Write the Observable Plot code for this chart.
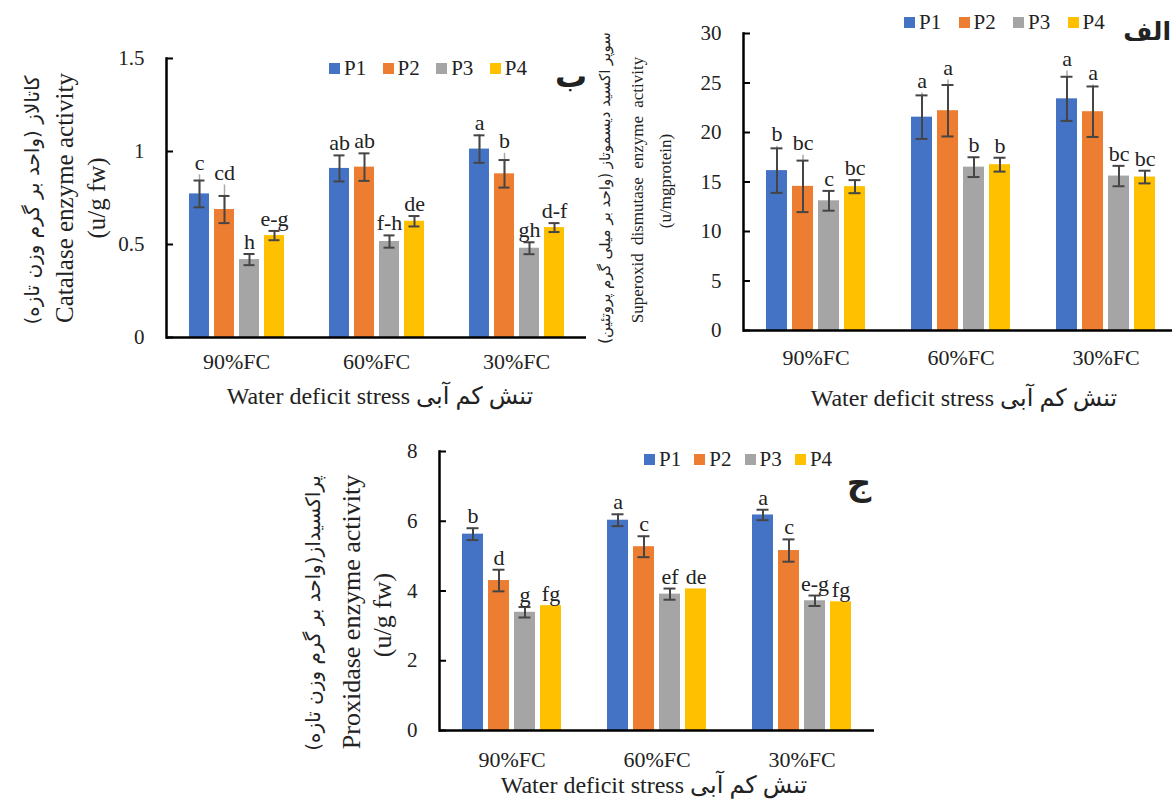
<!DOCTYPE html>
<html><head><meta charset="utf-8">
<script src="https://cdn.jsdelivr.net/npm/d3@7"></script>
<script src="https://cdn.jsdelivr.net/npm/@observablehq/plot@0.6"></script>
<style>
html,body{margin:0;padding:0;background:#fff;}
body{width:1172px;height:803px;position:relative;overflow:hidden;font-family:"Liberation Serif","DejaVu Sans",serif;color:#222;}
.panel{position:absolute;}
.t{position:absolute;white-space:nowrap;transform:translate(-50%,-50%);line-height:1;font-family:"Liberation Serif","DejaVu Sans",serif;}
.rot{transform:translate(-50%,-50%) rotate(-90deg);}
.t.fa{font-family:"DejaVu Sans",sans-serif;}
.leg{position:absolute;}
.leg .lg-swatches{font:21px "Liberation Serif",serif !important;color:#222;margin:0 !important;}
.leg .lg-swatches-wrap{min-height:24px !important;flex-wrap:nowrap !important;}
.leg .lg-swatch{margin-right:0 !important;}
.leg .lg-swatch > svg{margin-right:4px !important;}
svg text{font-family:"Liberation Serif","DejaVu Sans",serif;}
</style></head><body>
<script>
const categories = ["90%FC", "60%FC", "30%FC"];
const series = ["P1", "P2", "P3", "P4"];
const colors = ["#4472C4", "#ED7D31", "#A5A5A5", "#FFC000"];

// Catalase (panel ب) — rows: P1..P4, columns: 90%FC, 60%FC, 30%FC
const catalaseMean = [[0.772, 0.909, 1.013], [0.688, 0.916, 0.880], [0.419, 0.516, 0.480], [0.548, 0.625, 0.591]];
const catalaseErr = [[0.072, 0.070, 0.074], [0.073, 0.074, 0.074], [0.030, 0.033, 0.032], [0.025, 0.028, 0.024]];
const catalaseLight = [[0.875, null, 1.09], [0.82, null, 0.99], [null, null, null], [null, null, null]];
const catalaseLetters = [["c", "ab", "a"], ["cd", "ab", "b"], ["h", "f-h", "gh"], ["e-g", "de", "d-f"]];
const catalaseTicks = [0, 0.5, 1, 1.5];

// Superoxide dismutase (panel الف)
const sodMean = [[16.15, 21.55, 23.4], [14.56, 22.2, 22.1], [13.1, 16.5, 15.6], [14.53, 16.75, 15.5]];
const sodErr = [[2.25, 2.2, 2.23], [2.6, 2.6, 2.55], [1.0, 1.0, 1.03], [0.66, 0.7, 0.64]];
const sodLight = [[18.6, 24.0, 26.2], [17.7, 25.3, 24.8], [null, null, null], [null, null, null]];
const sodLetters = [["b", "a", "a"], ["bc", "a", "a"], ["c", "b", "bc"], ["bc", "b", "bc"]];
const sodTicks = [0, 5, 10, 15, 20, 25, 30];

// Peroxidase (panel ج)
const podMean = [[5.63, 6.03, 6.18], [4.30, 5.27, 5.16], [3.39, 3.91, 3.72], [3.58, 4.06, 3.69]];
const podErr = [[0.17, 0.17, 0.15], [0.31, 0.30, 0.32], [0.15, 0.16, 0.15], [0, 0, 0]];
const podLight = [[null, null, null], [null, null, null], [null, null, null], [null, null, null]];
const podLetters = [["b", "a", "a"], ["d", "c", "c"], ["g", "ef", "e-g"], ["fg", "de", "fg"]];
const podTicks = [0, 2, 4, 6, 8];

function rows(mean, err, light, letters) {
  const out = [];
  series.forEach((s, i) => categories.forEach((c, j) => {
    const v = mean[i][j], e = err[i][j], l = light[i][j];
    out.push({cat: c, s, v, err: e, lo: v - e, hi: v + e, light: l,
      top: Math.max(v + e, l == null ? -Infinity : l), letter: letters[i][j]});
  }));
  return out;
}

function panel(data, o) {
  const withErr = data.filter(d => d.err > 0);
  const withLight = data.filter(d => d.light != null);
  return Plot.plot({
    width: o.width, height: o.height,
    marginLeft: o.ml, marginRight: o.mr, marginTop: o.mt, marginBottom: o.mb,
    style: {background: "transparent", maxWidth: "none", overflow: "visible",
      fontFamily: '"Liberation Serif", serif', fontSize: "22px", color: "#222"},
    fx: {domain: categories, padding: 0, axis: "bottom", tickSize: 0, tickPadding: o.fxPad, label: null},
    x: {domain: series, paddingInner: 0.2, paddingOuter: 0.87, axis: null},
    y: {domain: o.yDomain, axis: null},
    color: {domain: series, range: colors},
    marks: [
      Plot.barY(data, {fx: "cat", x: "s", y: "v", fill: "s"}),
      Plot.ruleX(withLight, {fx: "cat", x: "s", y1: "v", y2: "light", stroke: "#a8a8a8", strokeWidth: 1.5}),
      Plot.ruleX(withErr, {fx: "cat", x: "s", y1: "lo", y2: "hi", stroke: "#454545", strokeWidth: 2}),
      Plot.tickY(withErr, {fx: "cat", x: "s", y: "hi", stroke: "#454545", strokeWidth: 2, inset: 4.5}),
      Plot.tickY(withErr, {fx: "cat", x: "s", y: "lo", stroke: "#454545", strokeWidth: 2, inset: 4.5}),
      Plot.text(data, {fx: "cat", x: "s", y: "top", text: "letter", lineAnchor: "bottom", dy: -5, fontSize: 22, fill: "#222"}),
      Plot.axisY({ticks: o.ticks, tickFormat: d => String(d), tickSize: -7, tickPadding: 29, strokeWidth: 2, stroke: "#000", fontSize: 21, fill: "#222"}),
      Plot.frame({anchor: "left", facetAnchor: "left", strokeWidth: 2.5, stroke: "#000"}),
      Plot.ruleY([0], {strokeWidth: 2.5, stroke: "#000"})
    ]
  });
}

function place(el, left, top) {
  const d = document.createElement("div");
  d.className = "panel";
  d.style.left = left + "px"; d.style.top = top + "px";
  d.appendChild(el);
  document.body.appendChild(d);
  return d;
}
function txt(s, x, y, size, extra = {}, cls = "") {
  const d = document.createElement("div");
  d.className = "t " + cls;
  d.textContent = s;
  d.style.left = x + "px"; d.style.top = y + "px"; d.style.fontSize = size + "px";
  Object.assign(d.style, extra.style || {});
  if (extra.dir) d.setAttribute("dir", extra.dir);
  document.body.appendChild(d);
  return d;
}
function legend(left, cy, itemWidth) {
  const l = Plot.legend({color: {domain: series, range: colors}, legend: "swatches", swatchSize: 11, className: "lg"});
  const d = document.createElement("div");
  d.className = "leg";
  d.style.left = left + "px"; d.style.top = (cy - 12) + "px";
  d.appendChild(l);
  document.body.appendChild(d);
  d.querySelectorAll(".lg-swatch").forEach(s => { s.style.width = itemWidth + "px"; });
}

// Panel ب (catalase), top-left
place(panel(rows(catalaseMean, catalaseErr, catalaseLight, catalaseLetters),
  {width: 600, height: 382, ml: 165, mr: 13, mt: 58, mb: 45, fxPad: 16, yDomain: [0, 1.5], ticks: catalaseTicks}), 0, 0);
// Panel الف (SOD), top-right
place(panel(rows(sodMean, sodErr, sodLight, sodLetters),
  {width: 640, height: 375, ml: 183, mr: 22, mt: 33, mb: 45, fxPad: 19, yDomain: [0, 30], ticks: sodTicks}), 560, 0);
// Panel ج (POD), bottom
place(panel(rows(podMean, podErr, podLight, podLetters),
  {width: 610, height: 375, ml: 158, mr: 16, mt: 51, mb: 45, fxPad: 21, yDomain: [0, 8], ticks: podTicks}), 280, 400);

// Legends
legend(329, 68, 53.6);
legend(904, 22, 54.5);
legend(644, 459, 50.3);

// Panel letters
txt("ب", 571, 76, 32, {style: {fontWeight: "bold"}}, "fa");
txt("الف", 1171, 31, 25, {style: {fontWeight: "bold", transform: "translate(-100%,-50%)"}}, "fa");
txt("ج", 859, 483, 34, {style: {fontWeight: "bold"}}, "fa");

// X-axis titles
const xTitle = "Water deficit stress تنش کم آبی";
txt(xTitle, 380, 396, 24);
txt(xTitle, 964, 398, 24);
txt(xTitle, 654, 785, 24);

// Y-axis titles
txt("کاتالاز (واحد بر گرم وزن تازه)", 32, 200, 20, {dir: "rtl"}, "rot fa");
txt("Catalase enzyme  activity", 64, 198, 25, {}, "rot");
txt("(u/g fw)", 96, 198, 25, {}, "rot");

txt("سوپر اکسید دیسموتاز (واحد بر میلی گرم پروتئین)", 605, 188, 15, {dir: "rtl"}, "rot fa");
txt("Superoxid  dismutase  enzyme  activity", 637, 190, 17, {style: {wordSpacing: "4px"}}, "rot");
txt("(u/mgprotein)", 665, 181, 17, {}, "rot");

txt("پراکسیداز(واحد بر گرم وزن تازه)", 313, 613, 20, {dir: "rtl"}, "rot fa");
txt("Proxidase enzyme  activity", 352, 612, 26, {}, "rot");
txt("(u/g fw)", 383, 615, 26, {}, "rot");
</script>
</body></html>
